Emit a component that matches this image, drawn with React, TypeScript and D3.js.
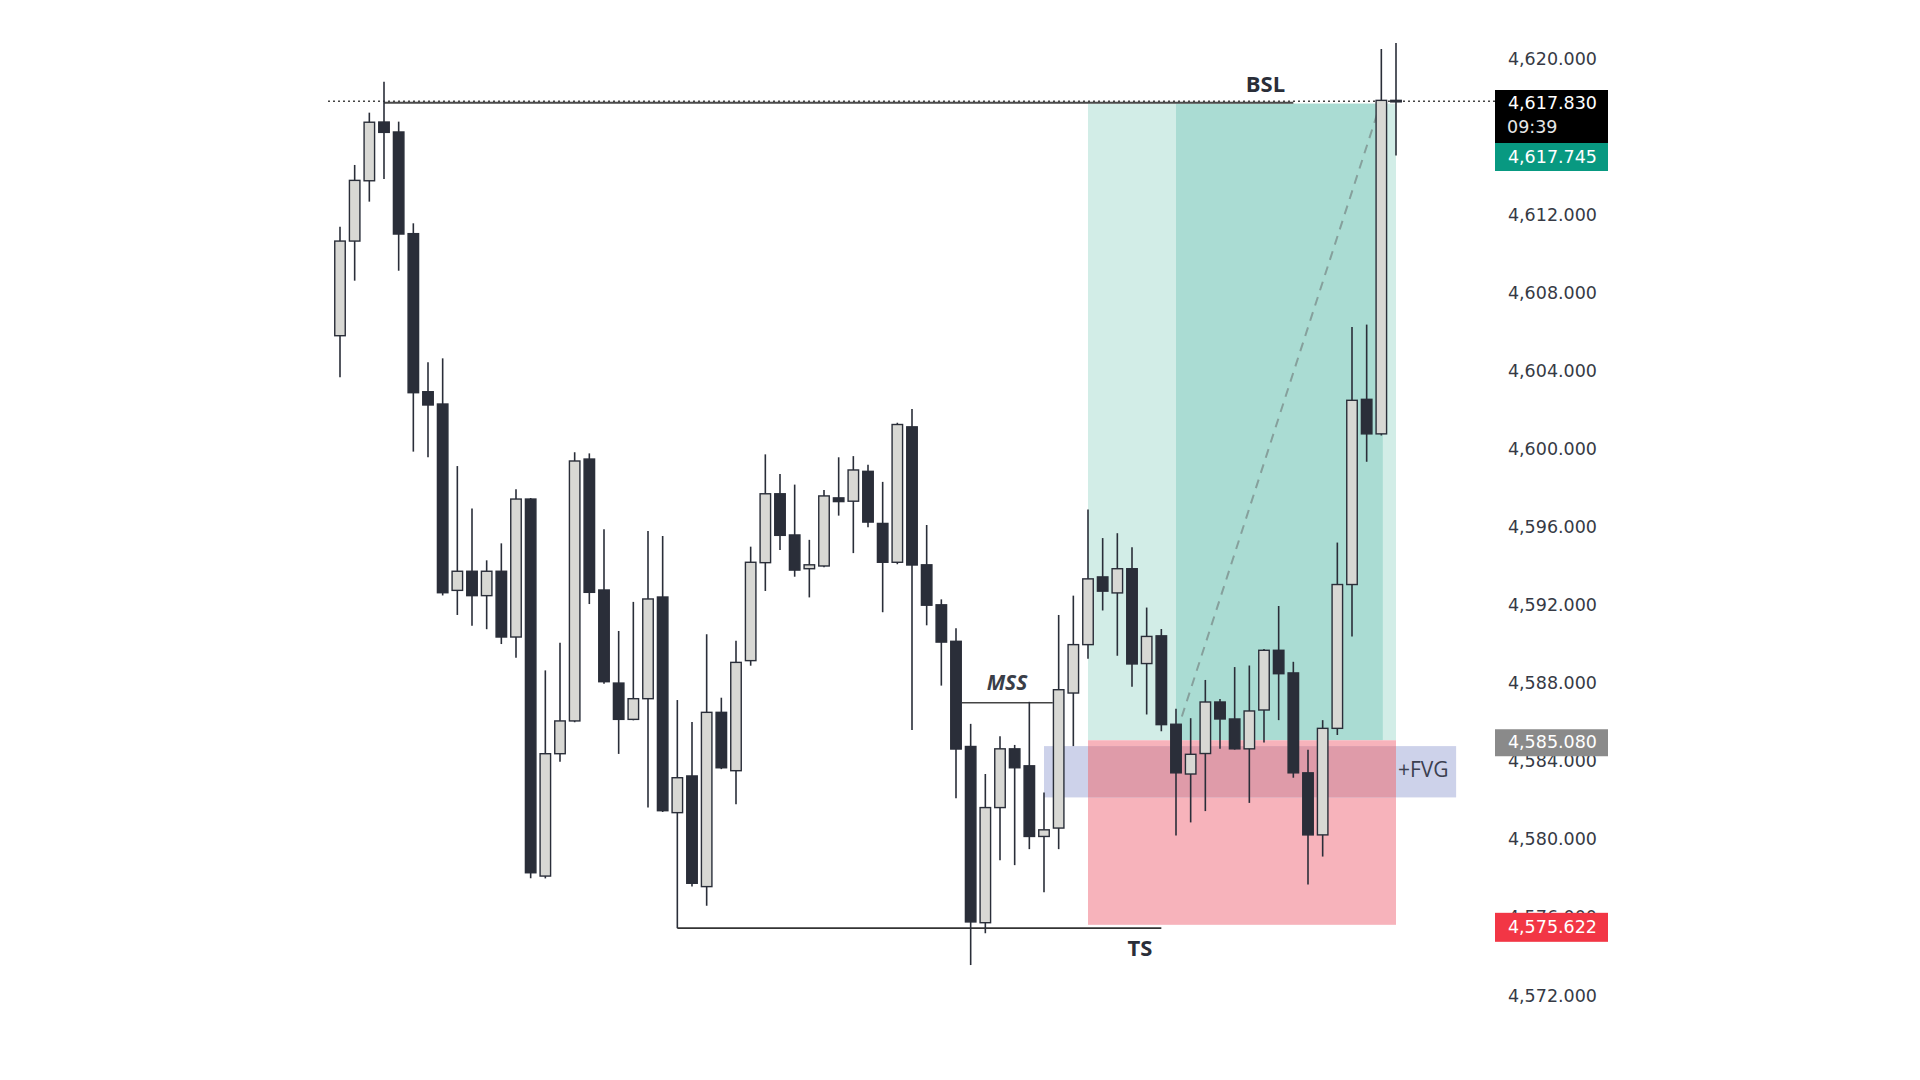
import React from 'react';
import * as d3 from 'd3';

// OHLC, one entry per bar
const opens = [
  4605.81, 4610.66, 4613.75, 4616.76, 4616.25, 4611.04, 4602.94, 4602.31, 4592.76, 4593.74,
  4592.49, 4593.74, 4590.37, 4597.44, 4578.12, 4584.39, 4586.07, 4599.49, 4592.78, 4588.01,
  4586.15, 4587.21, 4592.42, 4581.37, 4583.25, 4577.58, 4586.51, 4583.52, 4589.16, 4594.18,
  4597.71, 4595.60, 4593.87, 4594.01, 4597.50, 4597.33, 4598.86, 4596.19, 4594.20, 4601.14,
  4594.07, 4592.02, 4590.15, 4584.76, 4575.73, 4581.63, 4584.64, 4583.77, 4580.15, 4580.58,
  4587.50, 4589.98, 4593.45, 4592.63, 4593.87, 4589.01, 4590.43, 4585.90, 4583.35, 4584.40,
  4587.04, 4586.17, 4584.64, 4586.63, 4589.69, 4588.53, 4583.41, 4580.23, 4585.69, 4593.06,
  4602.55, 4600.78, 4617.87,
];
const highs = [
  4611.40, 4614.56, 4617.24, 4618.83, 4616.78, 4611.57, 4604.45, 4604.65, 4599.13, 4596.95,
  4594.30, 4595.17, 4597.94, 4597.50, 4588.66, 4590.08, 4599.84, 4599.78, 4595.89, 4590.68,
  4592.17, 4595.80, 4595.55, 4587.14, 4586.02, 4590.51, 4587.26, 4590.18, 4595.00, 4599.73,
  4598.72, 4598.18, 4595.35, 4597.90, 4599.58, 4599.64, 4599.20, 4598.32, 4601.35, 4602.05,
  4596.11, 4592.30, 4590.82, 4585.92, 4583.35, 4585.29, 4584.84, 4587.05, 4582.40, 4591.50,
  4592.49, 4596.91, 4595.44, 4595.69, 4594.97, 4591.88, 4590.78, 4586.70, 4586.21, 4588.17,
  4587.19, 4588.83, 4588.91, 4589.75, 4591.96, 4589.10, 4584.59, 4586.11, 4595.21, 4606.26,
  4606.38, 4620.50, 4620.81,
];
const lows = [
  4603.68, 4608.63, 4612.68, 4613.84, 4609.14, 4599.87, 4599.58, 4592.50, 4591.50, 4590.95,
  4590.77, 4590.01, 4589.31, 4578.01, 4578.00, 4583.98, 4586.00, 4592.06, 4587.98, 4584.38,
  4586.10, 4581.64, 4581.40, 4575.45, 4577.58, 4576.60, 4583.60, 4581.80, 4588.90, 4592.73,
  4594.83, 4593.46, 4592.40, 4593.95, 4596.59, 4594.67, 4596.00, 4591.64, 4594.10, 4585.60,
  4590.97, 4587.88, 4582.11, 4573.56, 4575.19, 4578.93, 4578.68, 4579.50, 4577.29, 4579.50,
  4584.78, 4589.25, 4591.73, 4589.41, 4587.82, 4586.40, 4585.54, 4580.20, 4580.87, 4581.45,
  4584.64, 4584.60, 4581.87, 4584.97, 4586.11, 4583.16, 4577.69, 4579.12, 4585.35, 4590.40,
  4599.35, 4600.70, 4615.04,
];
const closes = [
  4610.66, 4613.77, 4616.75, 4616.23, 4611.02, 4602.89, 4602.26, 4592.64, 4593.74, 4592.49,
  4593.74, 4590.37, 4597.44, 4578.29, 4584.39, 4586.07, 4599.39, 4592.66, 4588.08, 4586.15,
  4587.21, 4592.32, 4581.47, 4583.16, 4577.75, 4586.51, 4583.67, 4589.07, 4594.20, 4597.71,
  4595.58, 4593.80, 4594.07, 4597.60, 4597.31, 4598.93, 4596.26, 4594.20, 4601.26, 4594.06,
  4592.00, 4590.11, 4584.63, 4575.77, 4581.63, 4584.64, 4583.67, 4580.15, 4580.49, 4587.67,
  4589.98, 4593.35, 4592.72, 4593.87, 4588.99, 4590.40, 4585.88, 4583.41, 4584.36, 4587.04,
  4586.17, 4584.64, 4586.58, 4589.69, 4588.49, 4583.41, 4580.23, 4585.69, 4593.06, 4602.50,
  4600.78, 4617.87, 4617.83,
];

// 4616 sits under the last-price tag in the picture, so it is left out
const yTicks = [4572, 4576, 4580, 4584, 4588, 4592, 4596, 4600, 4604, 4608, 4612, 4620];

// price levels
const lastPrice = 4617.83;
const bidPrice = 4617.745;
const countdown = '09:39';
const entryPrice = 4585.08;
const stopPrice = 4575.622;
const targetPrice = 4617.7;
const bslLevel = 4617.75;
const mssLevel = 4587.0;
const tsLevel = 4575.45;
const fvgTop = 4584.78;
const fvgBottom = 4582.15;

// bar indices for the drawings
const positionBars = [51, 72];
const filledBars = [57, 71.1];
const fvgBars = [48, 76.1];
const bslBars = [3, 65];
const mssBars = [42.4, 48.6];
const tsBars = [23, 56];
const tradePath = [[57.4, 4586.3], [71, 4617.83]];

const bullFill = '#d8d8d4';
const ink = '#2a2e39';

export default function App() {
  const n = closes.length;
  const x = d3.scaleLinear().domain([0, n - 1]).range([340, 1396]);
  const y = d3.scaleLinear().domain([4572, 4620]).range([995.5, 58.8]);
  const fmt = d3.format(',.3f');
  const bw = 10.5;

  const posL = x(positionBars[0]), posR = x(positionBars[1]);
  const fvgL = x(fvgBars[0]), fvgR = x(fvgBars[1]);
  const ovL = Math.max(posL, fvgL), ovR = Math.min(posR, fvgR);
  const ovT = Math.max(y(entryPrice), y(fvgTop)), ovB = Math.min(y(stopPrice), y(fvgBottom));

  const tradeLine = d3.line<number[]>().x(d => x(d[0])).y(d => y(d[1]));

  const axisX = 1597;
  const boxL = 1495, boxW = 113;

  return (
    <svg width={1920} height={1080} style={{ position: 'absolute', left: 0, top: 0, background: '#fff' }}>
      <rect width={1920} height={1080} fill="#fff" />

      {/* long position */}
      <rect x={posL} y={y(targetPrice)} width={posR - posL} height={y(entryPrice) - y(targetPrice)} fill="#d2ede7" />
      <rect x={x(filledBars[0])} y={y(targetPrice)} width={x(filledBars[1]) - x(filledBars[0])} height={y(entryPrice) - y(targetPrice)} fill="#aadcd3" />
      <rect x={posL} y={y(entryPrice)} width={posR - posL} height={y(stopPrice) - y(entryPrice)} fill="#f7b3bb" />

      {/* FVG */}
      <rect x={fvgL} y={y(fvgTop)} width={fvgR - fvgL} height={y(fvgBottom) - y(fvgTop)} fill="#cdd2ea" />
      <rect x={ovL} y={ovT} width={ovR - ovL} height={ovB - ovT} fill="#df9ba9" />

      {/* lines */}
      <line x1={328} x2={boxL} y1={y(lastPrice)} y2={y(lastPrice)} stroke="#444" strokeWidth={1.5} strokeDasharray="2 3" />
      <line x1={x(bslBars[0])} x2={x(bslBars[1])} y1={y(bslLevel)} y2={y(bslLevel)} stroke="#4a4a4a" strokeWidth={2} />
      <line x1={x(mssBars[0])} x2={x(mssBars[1])} y1={y(mssLevel)} y2={y(mssLevel)} stroke="#444" strokeWidth={1.6} />
      <line x1={x(tsBars[0])} x2={x(tsBars[1])} y1={y(tsLevel)} y2={y(tsLevel)} stroke="#333" strokeWidth={1.8} />
      <path d={tradeLine(tradePath) || ''} fill="none" stroke="#86a09c" strokeWidth={2} strokeDasharray="9 7" />

      {/* candles */}
      {closes.map((c, i) => {
        const o = opens[i];
        const bull = c >= o;
        const top = y(Math.max(o, c));
        const bot = y(Math.min(o, c));
        return (
          <g key={i}>
            <line x1={x(i)} x2={x(i)} y1={y(highs[i])} y2={y(lows[i])} stroke={ink} strokeWidth={1.6} />
            <rect x={x(i) - bw / 2} y={top} width={bw} height={Math.max(bot - top, 1.5)}
              fill={bull ? bullFill : ink} stroke={ink} strokeWidth={1.4} />
          </g>
        );
      })}

      {/* labels */}
      <g fontFamily="'Open Sans', sans-serif" fill={ink}>
        <text x={x(63.1)} y={92} textAnchor="middle" fontSize={22} fontWeight="bold">BSL</text>
        <text x={1007} y={690} textAnchor="middle" fontSize={21} fontWeight="bold" fontStyle="italic" fill="#3a3e48">MSS</text>
        <text x={1140} y={956} textAnchor="middle" fontSize={22} fontWeight="bold">TS</text>
        <text x={1398} y={777} fontSize={21} fill="#3b4050">+FVG</text>
      </g>

      {/* price axis */}
      <g fontFamily="'DejaVu Sans', sans-serif" fontSize={17.5}>
        {yTicks.map(t => (
          <text key={t} x={axisX} y={y(t)} textAnchor="end" dominantBaseline="central" fill="#363a45">{fmt(t)}</text>
        ))}
        <rect x={boxL} y={90} width={boxW} height={53} fill="#000" />
        <text x={axisX} y={103} textAnchor="end" dominantBaseline="central" fill="#fff">{fmt(lastPrice)}</text>
        <text x={boxL + 12} y={127} textAnchor="start" dominantBaseline="central" fill="#e6e6e6">{countdown}</text>
        <rect x={boxL} y={143} width={boxW} height={28} fill="#089981" />
        <text x={axisX} y={157} textAnchor="end" dominantBaseline="central" fill="#fff">{fmt(bidPrice)}</text>
        <rect x={boxL} y={y(entryPrice) - 11} width={boxW} height={27} fill="#8a8a8a" />
        <text x={axisX} y={y(entryPrice) + 2} textAnchor="end" dominantBaseline="central" fill="#fff">{fmt(entryPrice)}</text>
        <rect x={boxL} y={y(stopPrice) - 12} width={boxW} height={29} fill="#f23645" />
        <text x={axisX} y={y(stopPrice) + 2} textAnchor="end" dominantBaseline="central" fill="#fff">{fmt(stopPrice)}</text>
      </g>
    </svg>
  );
}
